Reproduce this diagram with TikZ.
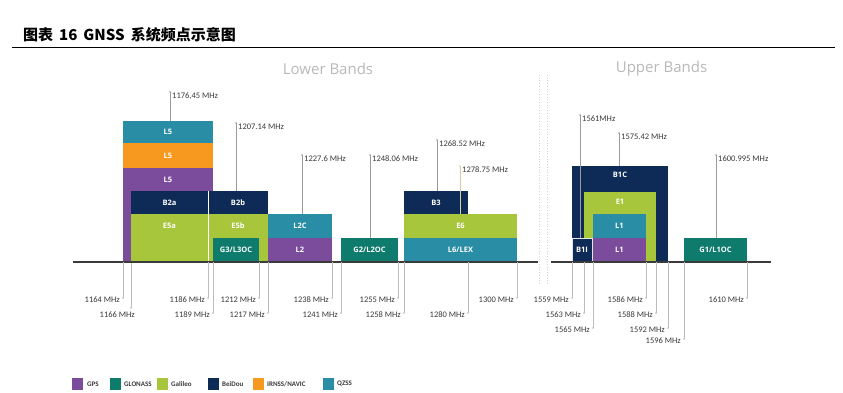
\documentclass[tikz,border=0pt]{standalone}
\usepackage{fontspec}
\setmainfont{Open Sans}
\newfontfamily\cjkfont{Noto Sans CJK SC}
\newfontfamily\freqfont{Carlito}
\definecolor{gps}{HTML}{7B4B9C}
\definecolor{glo}{HTML}{0F7B6C}
\definecolor{gal}{HTML}{A8C63C}
\definecolor{bds}{HTML}{0E2B57}
\definecolor{irn}{HTML}{F7991F}
\definecolor{qzs}{HTML}{2A8DA6}
\definecolor{tickgray}{HTML}{9A9A9A}
\definecolor{lowgray}{HTML}{BDBDBD}
\definecolor{txtgray}{HTML}{3A3A3A}
\definecolor{beige}{HTML}{D9CF9E}
\newcommand\toptick[6]{%
  \coordinate (#5t) at (#1,#2);
  \coordinate (#5b) at (#1,#3);
  \draw[tickline,#6] (#5b) -- (#5t);
  \fill[#6] (#5t) circle (0.9pt);
  \node[flab, anchor=west] (#5l) at (#1+2,#2+4) {#4};}
\newcommand\bottick[4]{%
  \coordinate (#4t) at (#1,262);
  \coordinate (#4b) at (#1,#2-2);
  \draw[botline] (#4t) -- (#4b);
  \fill[lowgray] (#4b) circle (0.9pt);
  \node[flab, anchor=east] (#4l) at (#1-3,#2) {#3};}
\begin{document}
\begin{tikzpicture}[x=1pt,y=-1pt,
  blk/.style={inner sep=0pt, outer sep=0pt, anchor=north west, text=white,
    font=\bfseries\fontsize{7.5}{8}\selectfont},
  blab/.style={inner sep=0pt, text=white, font=\bfseries\fontsize{7.5}{8}\selectfont},
  flab/.style={inner sep=0pt, text=txtgray, font=\freqfont\fontsize{8.5}{9}\selectfont},
  tickline/.style={line width=0.6pt},
  botline/.style={lowgray, line width=0.6pt},
  axisline/.style={line width=1.6pt, draw=txtgray},
  sepline/.style={gray!35, dotted, line width=0.7pt},
  bandtitle/.style={inner sep=0pt, text=gray!55, font=\fontsize{15}{16}\selectfont},
  legsq/.style={inner sep=0pt, anchor=north west, minimum width=11pt, minimum height=12pt},
  legtxt/.style={inner sep=0pt, anchor=west, text=txtgray, font=\freqfont\bfseries\fontsize{7}{8}\selectfont}]
\useasboundingbox[fill=white] (0,0) rectangle (843,392);

% title
\node[inner sep=0pt, anchor=west] (title) at (23,35)
  {\cjkfont\bfseries\fontsize{15}{15}\selectfont 图表\hspace{6pt}16\hspace{6pt}GNSS\hspace{6pt}系统频点示意图};
\coordinate (rl) at (12,47);
\coordinate (rr) at (835,47);
\draw[line width=0.8pt] (rl) -- (rr);

% band titles
\node[bandtitle] (lower) at (328,69) {Lower Bands};
\node[bandtitle] (upper) at (661.5,69) {Upper Bands};

% separator
\coordinate (s1t) at (539,75); \coordinate (s1b) at (539,283);
\coordinate (s2t) at (547,75); \coordinate (s2b) at (547,283);
\draw[sepline] (s1t) -- (s1b);
\draw[sepline] (s2t) -- (s2b);

% top ticks (drawn before blocks)
\toptick{170}{92}{121}{1176,45 MHz}{fa}{tickgray}
\toptick{236}{123}{191}{1207.14 MHz}{fb}{tickgray}
\toptick{302}{155}{214}{1227.6 MHz}{fc}{tickgray}
\toptick{370}{155}{238}{1248.06 MHz}{fd}{tickgray}
\toptick{437}{140}{191}{1268.52 MHz}{fe}{tickgray}
\toptick{460}{166}{191}{1278.75 MHz}{ff}{beige}
\toptick{619}{133}{166}{1575.42 MHz}{fh}{tickgray}
\toptick{716}{155}{238}{1600.995 MHz}{fi}{tickgray}

% lower band blocks
\node[blk, fill=gps, minimum width=90pt, minimum height=94pt] (l5g) at (123,168) {};
\node[blk, fill=irn, minimum width=90pt, minimum height=25pt] (l5i) at (123,143) {L5};
\node[blk, fill=qzs, minimum width=90pt, minimum height=22pt] (l5q) at (123,121) {L5};
\node[blab] (l5gl) at (168,180) {L5};
\node[blk, fill=bds, minimum width=77pt, minimum height=23pt] (b2a) at (131,191) {B2a};
\node[blk, fill=bds, minimum width=60pt, minimum height=23pt] (b2b) at (208,191) {B2b};
\node[blk, fill=gal, minimum width=77pt, minimum height=48pt] (e5a) at (131,214) {};
\node[blk, fill=gal, minimum width=60pt, minimum height=48pt] (e5b) at (208,214) {};
\node[blab] (e5al) at (169.5,226) {E5a};
\node[blab] (e5bl) at (238,226) {E5b};
\coordinate (dvt) at (208,191); \coordinate (dvb) at (208,262);
\draw[white, line width=0.5pt] (dvt) -- (dvb);
\node[blk, fill=glo, minimum width=46pt, minimum height=24pt] (g3) at (213,238) {G3/L3OC};
\node[blk, fill=qzs, minimum width=64pt, minimum height=24pt] (l2c) at (268,214) {L2C};
\node[blk, fill=gps, minimum width=64pt, minimum height=24pt] (l2) at (268,238) {L2};
\node[blk, fill=glo, minimum width=57pt, minimum height=24pt] (g2) at (341,238) {G2/L2OC};
\node[blk, fill=bds, minimum width=64pt, minimum height=23pt] (b3) at (404,191) {B3};
\node[blk, fill=gal, minimum width=113pt, minimum height=24pt] (e6) at (404,214) {E6};
\node[blk, fill=qzs, minimum width=113pt, minimum height=24pt] (l6) at (404,238) {L6/LEX};
% 1278.75 line over B3
\coordinate (ffm) at (460,214);
\draw[tickline, beige] (ffb) -- (ffm);

% upper band blocks
\node[blk, fill=bds, minimum width=96pt, minimum height=96pt] (b1c) at (572,166) {};
\node[blab] (b1cl) at (620,175) {B1C};
\node[blk, fill=gal, minimum width=72pt, minimum height=70pt] (e1) at (584,192) {};
\node[blab] (e1l) at (620,202) {E1};
\node[blk, fill=qzs, minimum width=53pt, minimum height=24pt] (l1q) at (593,214) {L1};
\node[blk, fill=gps, minimum width=53pt, minimum height=24pt] (l1g) at (593,238) {L1};
\node[blk, fill=bds, draw=white!80!gray, line width=0.6pt, minimum width=20pt, minimum height=24pt] (b1i) at (572,238) {B1I};
\node[blk, fill=glo, minimum width=63pt, minimum height=24pt] (g1) at (684,238) {G1/L1OC};
% 1561 line over B1C
\toptick{580}{115}{238}{1561MHz}{fg}{tickgray}

% axes
\coordinate (a1l) at (73,262); \coordinate (a1r) at (538,262);
\coordinate (a2l) at (551,262); \coordinate (a2r) at (771,262);
\draw[axisline] (a1l) -- (a1r);
\draw[axisline] (a2l) -- (a2r);

% bottom ticks
\bottick{123}{300}{1164 MHz}{ba}
\coordinate (bbt) at (131,263); \coordinate (bbb) at (131,308);
\draw[botline] (bbt) -- (bbb);
\fill[lowgray] (bbb) circle (0.9pt);
\node[flab, anchor=east] (bbl) at (135,315) {1166 MHz};
\bottick{208}{300}{1186 MHz}{bc}
\bottick{213}{315}{1189 MHz}{bd}
\bottick{259}{300}{1212 MHz}{be}
\bottick{268}{315}{1217 MHz}{bf}
\bottick{332}{300}{1238 MHz}{bg}
\bottick{341}{315}{1241 MHz}{bh}
\bottick{398}{300}{1255 MHz}{bi}
\bottick{404}{315}{1258 MHz}{bj}
\bottick{468}{315}{1280 MHz}{bk}
\bottick{517}{300}{1300 MHz}{bl}
\bottick{572}{300}{1559 MHz}{bm}
\bottick{584}{315}{1563 MHz}{bn}
\bottick{593}{330}{1565 MHz}{bo}
\bottick{646}{300}{1586 MHz}{bp}
\bottick{656}{315}{1588 MHz}{bq}
\bottick{668}{330}{1592 MHz}{br}
\bottick{684}{341}{1596 MHz}{bs}
\bottick{747}{300}{1610 MHz}{bt}

% legend
\node[legsq, fill=gps] (lg1) at (72,378) {};
\node[legtxt] (lt1) at (87,384) {GPS};
\node[legsq, fill=glo] (lg2) at (110,378) {};
\node[legtxt] (lt2) at (124,384) {GLONASS};
\node[legsq, fill=gal] (lg3) at (157,378) {};
\node[legtxt] (lt3) at (171,384) {Galileo};
\node[legsq, fill=bds] (lg4) at (208,378) {};
\node[legtxt] (lt4) at (222,384) {BeiDou};
\node[legsq, fill=irn] (lg5) at (253,378) {};
\node[legtxt] (lt5) at (267,384) {IRNSS/NAVIC};
\node[legsq, fill=qzs] (lg6) at (323,378) {};
\node[legtxt] (lt6) at (337,384) {QZSS};
\end{tikzpicture}
\end{document}
